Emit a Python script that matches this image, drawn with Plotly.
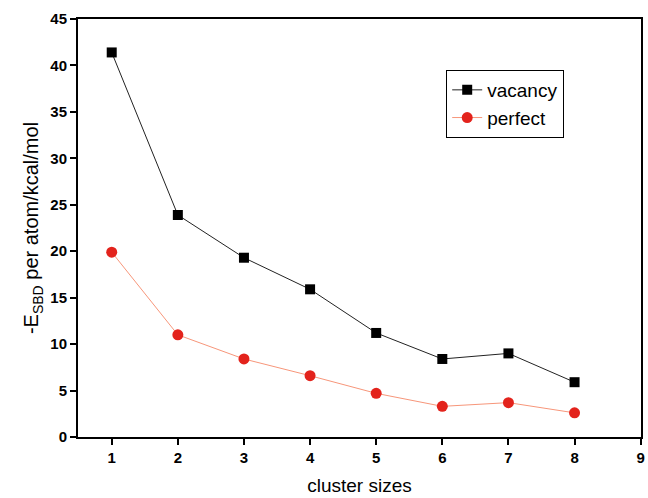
import plotly.graph_objects as go

cluster_sizes = [1, 2, 3, 4, 5, 6, 7, 8]
vacancy = [41.4, 23.9, 19.3, 15.9, 11.2, 8.4, 9.0, 5.9]
perfect = [19.9, 11.0, 8.4, 6.6, 4.7, 3.3, 3.7, 2.6]
x_ticks = [1, 2, 3, 4, 5, 6, 7, 8, 9]
y_ticks = [0, 5, 10, 15, 20, 25, 30, 35, 40, 45]

fig = go.Figure()
fig.add_trace(go.Scatter(
    x=cluster_sizes, y=vacancy, name="vacancy", mode="lines+markers",
    line=dict(color="#222222", width=1),
    marker=dict(symbol="square", size=10, color="#000000"),
))
fig.add_trace(go.Scatter(
    x=cluster_sizes, y=perfect, name="perfect", mode="lines+markers",
    line=dict(color="#f7967a", width=1),
    marker=dict(symbol="circle", size=11, color="#e3231c"),
))

axis_common = dict(
    showline=True, linecolor="black", linewidth=2, mirror=True,
    ticks="outside", ticklen=6, tickwidth=2, tickcolor="black",
    showgrid=False, zeroline=False, automargin=False,
    tickfont=dict(family="Liberation Sans, Arial", size=15, color="black", weight="bold"),
)

fig.update_layout(
    width=648, height=498,
    margin=dict(l=78, r=7, t=19, b=61),
    paper_bgcolor="white", plot_bgcolor="white",
    font=dict(family="Liberation Sans, Arial", color="black"),
    xaxis=dict(range=[0.49, 9.005], tickvals=x_ticks,
               title=dict(text="cluster sizes", font=dict(size=19), standoff=14),
               **axis_common),
    yaxis=dict(range=[0, 45], tickvals=y_ticks,
               title=dict(text="-E<sub>SBD</sub> per atom/kcal/mol", font=dict(size=20), standoff=6),
               **axis_common),
    legend=dict(x=0.654, y=0.878, xanchor="left", yanchor="top",
                bordercolor="black", borderwidth=1, bgcolor="white",
                font=dict(size=19), tracegroupgap=0, itemwidth=30),
    showlegend=True,
)

fig.write_html("out.html", config={"displayModeBar": False},
               post_script="document.body.style.margin='0';")
